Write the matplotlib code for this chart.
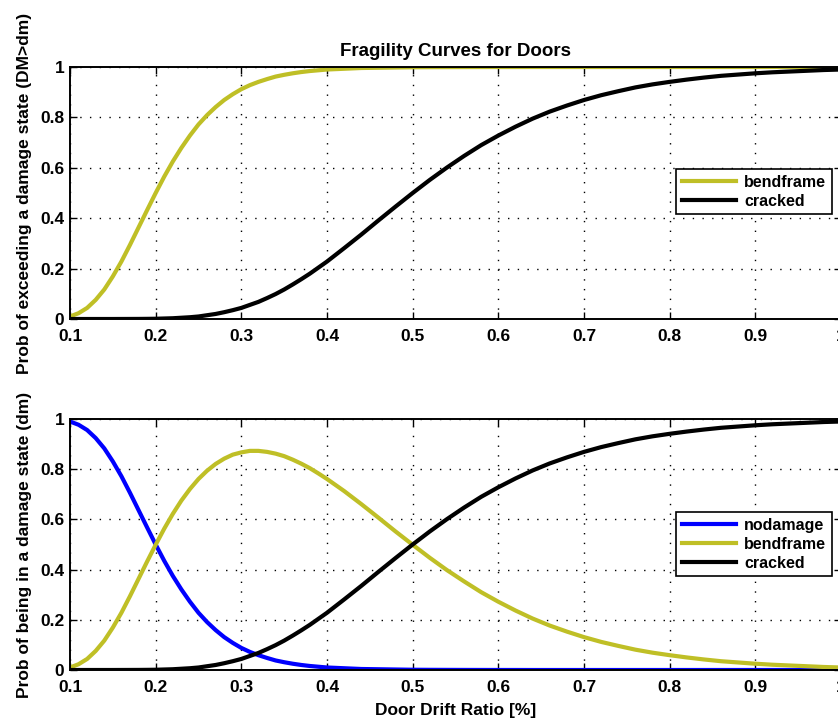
import matplotlib
matplotlib.use("Agg")
import matplotlib.pyplot as plt

plt.rcParams['font.family'] = ['Liberation Sans', 'DejaVu Sans']
plt.rcParams['font.weight'] = 'bold'

# Drift ratio sample points [%]
drift = [0.10, 0.11, 0.12, 0.13, 0.14, 0.15, 0.16, 0.17, 0.18, 0.19,
         0.20, 0.21, 0.22, 0.23, 0.24, 0.25, 0.26, 0.27, 0.28, 0.29,
         0.30, 0.31, 0.32, 0.33, 0.34, 0.35, 0.36, 0.37, 0.38, 0.39,
         0.40, 0.42, 0.44, 0.46, 0.48, 0.50, 0.52, 0.54, 0.56, 0.58,
         0.60, 0.62, 0.64, 0.66, 0.68, 0.70, 0.72, 0.74, 0.76, 0.78,
         0.80, 0.82, 0.84, 0.86, 0.88, 0.90, 0.92, 0.94, 0.96, 0.98,
         1.00]

# Top panel: probability of exceeding damage state
exceed_bendframe = [0.010, 0.023, 0.044, 0.076, 0.117, 0.169, 0.228, 0.294, 0.363, 0.432,
                    0.500, 0.565, 0.625, 0.679, 0.728, 0.772, 0.809, 0.841, 0.869, 0.892,
                    0.912, 0.928, 0.941, 0.952, 0.962, 0.969, 0.975, 0.980, 0.984, 0.987,
                    0.990, 0.993, 0.996, 0.997, 0.998, 0.999, 0.9993, 0.9995, 0.9997, 0.9998,
                    0.9999, 0.9999, 1.0, 1.0, 1.0, 1.0, 1.0, 1.0, 1.0, 1.0,
                    1.0, 1.0, 1.0, 1.0, 1.0, 1.0, 1.0, 1.0, 1.0, 1.0,
                    1.0]
exceed_cracked = [0.0, 0.0, 0.0, 0.0, 0.0, 0.0, 0.0001, 0.0002, 0.0003, 0.0006,
                  0.001, 0.002, 0.003, 0.005, 0.007, 0.010, 0.015, 0.020, 0.027, 0.035,
                  0.044, 0.056, 0.068, 0.083, 0.099, 0.117, 0.137, 0.158, 0.180, 0.204,
                  0.228, 0.281, 0.335, 0.391, 0.446, 0.500, 0.552, 0.601, 0.647, 0.690,
                  0.728, 0.763, 0.795, 0.823, 0.847, 0.869, 0.888, 0.904, 0.919, 0.931,
                  0.941, 0.950, 0.958, 0.965, 0.970, 0.975, 0.979, 0.982, 0.985, 0.988,
                  0.990]

# Bottom panel: probability of being in a damage state
state_nodamage = [0.990, 0.977, 0.956, 0.924, 0.883, 0.831, 0.772, 0.706, 0.637, 0.568,
                  0.500, 0.435, 0.375, 0.321, 0.272, 0.228, 0.191, 0.159, 0.131, 0.108,
                  0.088, 0.072, 0.059, 0.048, 0.038, 0.031, 0.025, 0.020, 0.016, 0.013,
                  0.010, 0.007, 0.004, 0.003, 0.002, 0.001, 0.0007, 0.0005, 0.0003, 0.0002,
                  0.0001, 0.0001, 0.0, 0.0, 0.0, 0.0, 0.0, 0.0, 0.0, 0.0,
                  0.0, 0.0, 0.0, 0.0, 0.0, 0.0, 0.0, 0.0, 0.0, 0.0,
                  0.0]
state_bendframe = [0.010, 0.023, 0.044, 0.076, 0.117, 0.169, 0.228, 0.294, 0.363, 0.432,
                   0.499, 0.563, 0.622, 0.675, 0.721, 0.761, 0.794, 0.821, 0.842, 0.858,
                   0.867, 0.873, 0.873, 0.869, 0.862, 0.852, 0.838, 0.822, 0.804, 0.783,
                   0.761, 0.713, 0.661, 0.607, 0.552, 0.499, 0.447, 0.398, 0.353, 0.310,
                   0.272, 0.237, 0.205, 0.177, 0.153, 0.131, 0.112, 0.096, 0.081, 0.069,
                   0.059, 0.050, 0.042, 0.035, 0.030, 0.025, 0.021, 0.018, 0.015, 0.012,
                   0.010]
state_cracked = [0.0, 0.0, 0.0, 0.0, 0.0, 0.0, 0.0001, 0.0002, 0.0003, 0.0006,
                 0.001, 0.002, 0.003, 0.005, 0.007, 0.010, 0.015, 0.020, 0.027, 0.035,
                 0.044, 0.056, 0.068, 0.083, 0.099, 0.117, 0.137, 0.158, 0.180, 0.204,
                 0.228, 0.281, 0.335, 0.391, 0.446, 0.500, 0.552, 0.601, 0.647, 0.690,
                 0.728, 0.763, 0.795, 0.823, 0.847, 0.869, 0.888, 0.904, 0.919, 0.931,
                 0.941, 0.950, 0.958, 0.965, 0.970, 0.975, 0.979, 0.982, 0.985, 0.988,
                 0.990]

xticks = [0.1, 0.2, 0.3, 0.4, 0.5, 0.6, 0.7, 0.8, 0.9, 1.0]
xticklabels = ['0.1', '0.2', '0.3', '0.4', '0.5', '0.6', '0.7', '0.8', '0.9', '1']
yticks = [0, 0.2, 0.4, 0.6, 0.8, 1.0]
yticklabels = ['0', '0.2', '0.4', '0.6', '0.8', '1']

YEL = '#bfbf26'
BLU = '#0000ff'
BLK = '#000000'

W, H = 838, 719
fig = plt.figure(figsize=(W / 100, H / 100), dpi=100)

def px_axes(left, top, right, bottom):
    return fig.add_axes([left / W, 1 - bottom / H, (right - left) / W, (bottom - top) / H])

ax1 = px_axes(70, 67, 841, 319)
ax2 = px_axes(70, 419, 841, 670)

def style(ax):
    ax.set_xlim(0.1, 1.0)
    ax.set_ylim(0, 1)
    ax.set_xticks(xticks)
    ax.set_xticklabels(xticklabels)
    ax.set_yticks(yticks)
    ax.set_yticklabels(yticklabels)
    ax.tick_params(direction='in', top=True, right=True, length=5, width=1,
                   labelsize=12.5)
    ax.tick_params(axis='x', pad=7)
    ax.tick_params(axis='y', pad=4)
    for lab in ax.get_xticklabels() + ax.get_yticklabels():
        lab.set_fontweight('bold')
    for s in ax.spines.values():
        s.set_linewidth(1.4)
    ax.grid(True, color='black', linestyle=(0, (1, 6)), linewidth=1.0)
    ax.set_axisbelow(True)

def add_legend(ax, top_frac):
    leg = ax.legend(loc='upper right', bbox_to_anchor=(0.988, top_frac), fontsize=11.5,
                    frameon=True, fancybox=False, edgecolor='black', framealpha=1,
                    handlelength=3.4, handletextpad=0.5, labelspacing=0.25,
                    borderpad=0.35, borderaxespad=0)
    leg.get_frame().set_linewidth(1.2)
    for t in leg.get_texts():
        t.set_fontweight('bold')
    return leg

lw = 3.0
ax1.plot(drift, exceed_bendframe, color=YEL, lw=lw, label='bendframe')
ax1.plot(drift, exceed_cracked, color=BLK, lw=lw, label='cracked')
style(ax1)
ax1.set_title('Fragility Curves for Doors', fontsize=13.5, fontweight='bold', pad=8)
ax1.set_ylabel('Prob of exceeding a damage state (DM>dm)', fontsize=12.5,
               fontweight='bold', labelpad=6)
add_legend(ax1, 0.595)

ax2.plot(drift, state_nodamage, color=BLU, lw=lw, label='nodamage')
ax2.plot(drift, state_bendframe, color=YEL, lw=lw, label='bendframe')
ax2.plot(drift, state_cracked, color=BLK, lw=lw, label='cracked')
style(ax2)
ax2.set_ylabel('Prob of being in a damage state (dm)', fontsize=12.5,
               fontweight='bold', labelpad=6)
ax2.set_xlabel('Door Drift Ratio [%]', fontsize=12.5, fontweight='bold', labelpad=6)
add_legend(ax2, 0.629)

fig.savefig('out.png', dpi=100)
